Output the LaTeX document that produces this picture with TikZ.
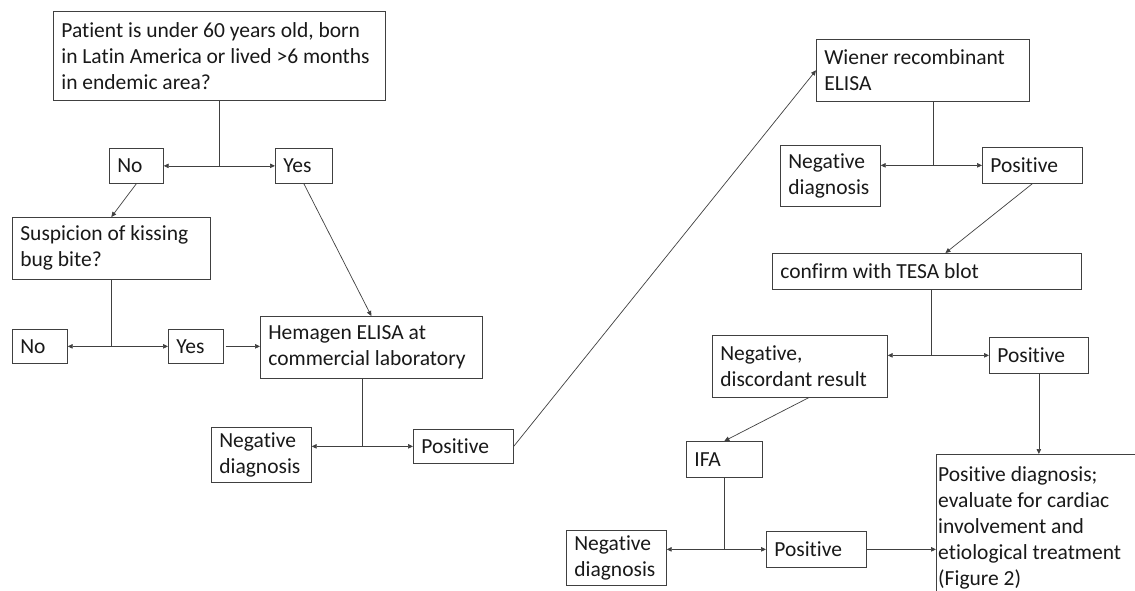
\documentclass[tikz,border=0pt]{standalone}
\usepackage{fontspec}
\setmainfont{Carlito}[Ligatures=NoCommon]
\usetikzlibrary{arrows.meta,calc}
\newcommand{\boxtxt}[2]{\parbox{#1}{\raggedright #2}}
\tikzset{
  box/.style={draw=black!75, line width=0.7pt, inner xsep=8pt, inner ysep=0pt,
    anchor=north west, text=black!90,
    font=\fontsize{21.5}{26}\selectfont},
  ln/.style={draw=black!75, line width=0.7pt},
  arr/.style={ln, -{Triangle[length=5pt,width=4.5pt]}}
}
\begin{document}
\begin{tikzpicture}[x=1pt,y=-1pt]
\useasboundingbox (0,0) rectangle (1135,590);
\clip (0,0) rectangle (1135,590);
\fill[white] (0,0) rectangle (1135,590);

% left part
\node[box, minimum width=332pt, minimum height=89pt] (p) at (53,11)
  {\boxtxt{316pt}{Patient is under 60 years old, born\\in Latin America or lived >6 months\\in endemic area?}};
\node[box, minimum width=54pt, minimum height=35pt] (no1) at (109,148) {\boxtxt{38pt}{No}};
\node[box, minimum width=57pt, minimum height=35pt] (yes1) at (275,148) {\boxtxt{41pt}{Yes}};
\node[box, minimum width=198pt, minimum height=62pt] (sus) at (12,217)
  {\boxtxt{182pt}{Suspicion of kissing\\bug bite?}};
\node[box, minimum width=55pt, minimum height=34pt] (no2) at (12,329) {\boxtxt{39pt}{No}};
\node[box, minimum width=55pt, minimum height=34pt] (yes2) at (168,329) {\boxtxt{39pt}{Yes}};
\node[box, minimum width=222pt, minimum height=62pt] (hem) at (260,316)
  {\boxtxt{206pt}{Hemagen ELISA at\\commercial laboratory}};
\node[box, minimum width=100pt, minimum height=55pt] (neg1) at (211,427)
  {\boxtxt{84pt}{Negative\\diagnosis}};
\node[box, minimum width=100pt, minimum height=34pt] (pos1) at (413,429) {\boxtxt{84pt}{Positive}};

% right part
\node[box, minimum width=213pt, minimum height=62pt] (wie) at (816,39)
  {\boxtxt{197pt}{Wiener recombinant\\ELISA}};
\node[box, minimum width=100pt, minimum height=61pt] (neg2) at (780,145)
  {\boxtxt{84pt}{Negative\\diagnosis}};
\node[box, minimum width=100pt, minimum height=36pt] (pos2) at (982,147) {\boxtxt{84pt}{Positive}};
\node[box, minimum width=309pt, minimum height=36pt] (tesa) at (772,253)
  {\boxtxt{293pt}{confirm with TESA blot}};
\node[box, minimum width=175pt, minimum height=62pt] (negd) at (712,335)
  {\boxtxt{159pt}{Negative,\\discordant result}};
\node[box, minimum width=99pt, minimum height=36pt] (pos3) at (989,337) {\boxtxt{83pt}{Positive}};
\node[box, minimum width=76pt, minimum height=36pt] (ifa) at (686,441) {\boxtxt{60pt}{IFA}};
\node[box, minimum width=100pt, minimum height=55pt] (neg3) at (566,530)
  {\boxtxt{84pt}{Negative\\diagnosis}};
\node[box, minimum width=100pt, minimum height=36pt] (pos4) at (766,531) {\boxtxt{84pt}{Positive}};

\coordinate (pdgnw) at (936,454);
\draw[ln] (pdgnw) rectangle ++(240,200);
\node[anchor=base west, inner sep=0pt, text=black!90,
  font=\fontsize{21.5}{26}\selectfont] (pdg) at ($(pdgnw)+(2,27)$)
  {\parbox[t]{200pt}{\raggedright Positive diagnosis;\\evaluate for cardiac\\involvement and\\etiological treatment\\(Figure 2)}};

% connectors
\draw[ln] (p.south) -- (p.south |- no1.east) coordinate (j1);
\draw[arr] (j1) -- (no1.east);
\draw[arr] (j1) -- (yes1.west);
\draw[arr] (no1.south) -- (sus.north);
\draw[arr] (yes1.south) -- (hem.north);

\draw[ln] (sus.south) -- (sus.south |- no2.east) coordinate (j2);
\draw[arr] (j2) -- (no2.east);
\draw[arr] (j2) -- (yes2.west);
\draw[arr, shorten <=2pt] (yes2.east) -- (yes2.east -| hem.west);

\draw[ln] ($(hem.south west)!0.46!(hem.south east)$) coordinate (h0) -- (h0 |- pos1.west) coordinate (j3);
\draw[arr] (j3) -- (j3 -| neg1.east);
\draw[arr] (j3) -- (pos1.west);
\draw[arr] (pos1.east) -- (wie.west);

\draw[ln] ($(wie.south west)!0.55!(wie.south east)$) coordinate (w0) -- (w0 |- pos2.west) coordinate (j4);
\draw[arr] (j4) -- (j4 -| neg2.east);
\draw[arr] (j4) -- (pos2.west);
\draw[arr] (pos2.south) -- ($(tesa.north west)!0.56!(tesa.north east)$);

\draw[ln] ($(tesa.south west)!0.515!(tesa.south east)$) coordinate (t0) -- (t0 |- pos3.west) coordinate (j5);
\draw[arr] (j5) -- (j5 -| negd.east);
\draw[arr] (j5) -- (pos3.west);
\draw[arr] (pos3.south) -- (pdgnw -| pos3.south);
\draw[arr] ($(negd.south west)!0.55!(negd.south east)$) -- (ifa.north);

\draw[ln] (ifa.south) -- (ifa.south |- pos4.west) coordinate (j6);
\draw[arr] (j6) -- (j6 -| neg3.east);
\draw[arr] (j6) -- (pos4.west);
\draw[arr] (pos4.east) -- (pdgnw |- pos4.east);
\end{tikzpicture}
\end{document}
